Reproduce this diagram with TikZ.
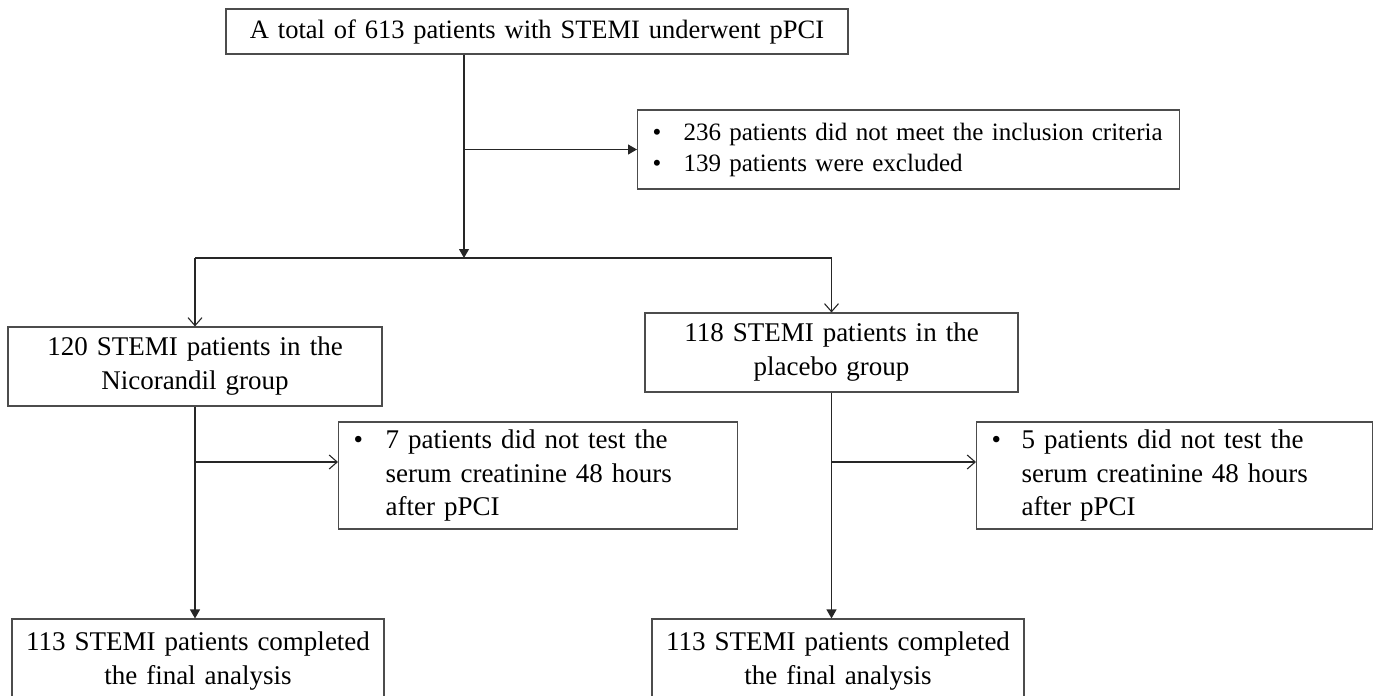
\documentclass[tikz,border=0pt]{standalone}
\usepackage{fontspec}
\setmainfont{Liberation Serif}
\usetikzlibrary{arrows.meta,positioning}

\begin{document}
\begin{tikzpicture}[x=1pt, y=-1pt, font=\fontsize{27}{34}\selectfont,
  box/.style={draw=black!70, line width=1.1pt, inner xsep=8pt, inner ysep=0pt, align=center},
  listbox/.style={draw=black!70, line width=1.1pt, inner xsep=15pt, inner ysep=0pt, align=left, anchor=west},
  link/.style={draw=black!85, line width=1.1pt},
  fillarrow/.style={link, -{Triangle[width=10pt,length=9pt]}},
  openarrow/.style={link, -{Straight Barb[width=14pt,length=8pt]}}]
  \useasboundingbox (0,0) rectangle (1379,696);
  \clip (0,0) rectangle (1379,696);
  \node[box, text width=606pt, minimum height=45pt, font=\fontsize{26.5}{32}\selectfont] (total) at (537,31.5) {A total of 613 patients with STEMI underwent pPCI};
  \node[listbox, text width=512pt, minimum height=79pt, font=\fontsize{25}{31}\selectfont] (excluded) at (637,149.5) {\begin{tabular}{@{}p{31pt}@{}l@{}}\textbullet & 236 patients did not meet the inclusion criteria\\ \textbullet & 139 patients were excluded\end{tabular}};
  \node[box, text width=358pt, minimum height=79pt] (nicor) at (195,366.5) {120 STEMI patients in the\\Nicorandil group};
  \node[box, text width=357pt, minimum height=79pt] (plac) at (831.5,352.5) {118 STEMI patients in the\\placebo group};
  \node[listbox, text width=369pt, minimum height=107pt, font=\fontsize{27}{33.5}\selectfont] (nicorlost) at (338,475.5) {\begin{tabular}{@{}p{32pt}@{}l@{}}\textbullet & 7 patients did not test the\\ & serum creatinine 48 hours\\ & after pPCI\end{tabular}};
  \node[listbox, text width=366pt, minimum height=107pt, font=\fontsize{27}{33.5}\selectfont] (placlost) at (976,475.5) {\begin{tabular}{@{}p{30pt}@{}l@{}}\textbullet & 5 patients did not test the\\ & serum creatinine 48 hours\\ & after pPCI\end{tabular}};
  \node[box, text width=356pt, minimum height=85pt] (nicorfin) at (198,661.5) {113 STEMI patients completed\\the final analysis};
  \node[box, text width=356pt, minimum height=85pt] (placfin) at (838,661.5) {113 STEMI patients completed\\the final analysis};
  \coordinate (split) at (464,258);
  \coordinate (sidey) at (0,462);
  \draw[fillarrow] (total.south -| split) -- (split);
  \draw[fillarrow] (excluded.west -| split) -- (excluded.west);
  \draw[link] (nicor.north |- split) -- (plac.north |- split);
  \draw[openarrow] (nicor.north |- split) -- (nicor.north);
  \draw[openarrow] (plac.north |- split) -- (plac.north);
  \draw[openarrow] (nicor.south |- sidey) -- (nicorlost.west |- sidey);
  \draw[openarrow] (plac.south |- sidey) -- (placlost.west |- sidey);
  \draw[fillarrow] (nicor.south) -- (nicor.south |- nicorfin.north);
  \draw[fillarrow] (plac.south) -- (plac.south |- placfin.north);
\end{tikzpicture}
\end{document}
